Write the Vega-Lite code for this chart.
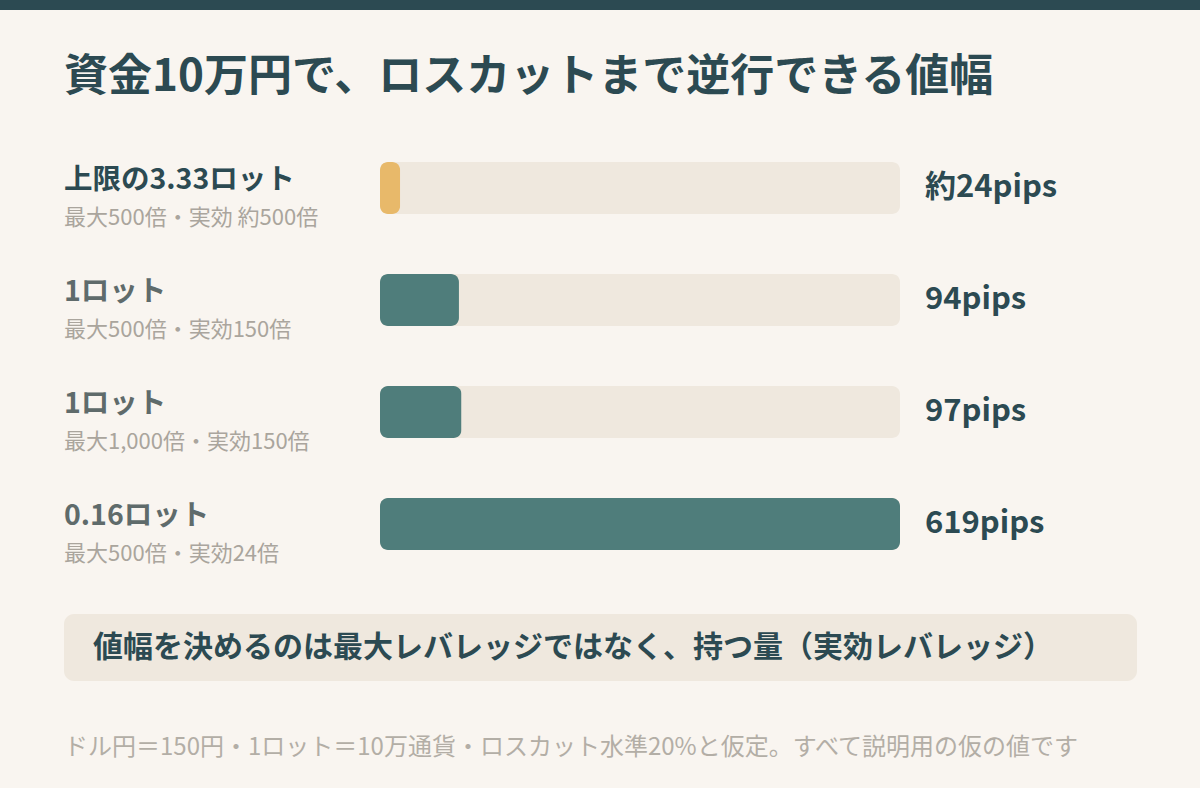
{
  "$schema": "https://vega.github.io/schema/vega-lite/v6.json",
  "width": 1200,
  "height": 788,
  "autosize": {"type": "none"},
  "padding": 0,
  "background": "#f9f5f0",
  "config": {
    "view": {"stroke": null},
    "text": {"font": "Noto Sans CJK JP"}
  },
  "datasets": {
    "cases": [
      {"row": "A", "lot": "上限の3.33ロット", "sub": "最大500倍・実効 約500倍", "pips": 24, "label": "約24pips", "kind": "上限"},
      {"row": "B", "lot": "1ロット", "sub": "最大500倍・実効150倍", "pips": 94, "label": "94pips", "kind": "通常"},
      {"row": "C", "lot": "1ロット", "sub": "最大1,000倍・実効150倍", "pips": 97, "label": "97pips", "kind": "通常"},
      {"row": "D", "lot": "0.16ロット", "sub": "最大500倍・実効24倍", "pips": 619, "label": "619pips", "kind": "通常"}
    ],
    "texts": [
      {"part": "band", "text": ""},
      {"part": "title", "text": "資金10万円で、ロスカットまで逆行できる値幅"},
      {"part": "note", "text": "値幅を決めるのは最大レバレッジではなく、持つ量（実効レバレッジ）"},
      {"part": "foot", "text": "ドル円＝150円・1ロット＝10万通貨・ロスカット水準20%と仮定。すべて説明用の仮の値です"}
    ]
  },
  "resolve": {"scale": {"x": "independent", "y": "independent"}},
  "layer": [
    {
      "data": {"name": "texts"},
      "transform": [{"filter": "datum.part === 'band'"}],
      "mark": {"type": "rect", "color": "#2c4a52"},
      "encoding": {
        "y": {"field": "part", "type": "nominal", "axis": null,
              "scale": {"domain": ["band"], "range": [0, 10], "paddingInner": 0, "paddingOuter": 0}}
      }
    },
    {
      "data": {"name": "texts"},
      "transform": [{"filter": "datum.part === 'title'"}],
      "mark": {"type": "text", "align": "left", "baseline": "middle", "fontSize": 44, "fontWeight": "bold", "color": "#2c4a52"},
      "encoding": {
        "x": {"field": "part", "type": "ordinal", "axis": null,
              "scale": {"type": "point", "domain": ["title"], "range": [64, 1137], "padding": 0, "align": 0}},
        "y": {"field": "part", "type": "nominal", "axis": null,
              "scale": {"domain": ["title"], "range": [57, 99], "paddingInner": 0, "paddingOuter": 0}},
        "text": {"field": "text"}
      }
    },
    {
      "data": {"name": "cases"},
      "transform": [{"joinaggregate": [{"op": "max", "field": "pips", "as": "full"}]}],
      "encoding": {
        "y": {"field": "row", "type": "nominal", "axis": null,
              "scale": {"domain": ["A", "B", "C", "D"], "range": [132, 580], "paddingInner": 0.5357, "paddingOuter": 0.2679}}
      },
      "layer": [
        {
          "mark": {"type": "bar", "cornerRadius": 8, "color": "#efe8de"},
          "encoding": {
            "x": {"field": "full", "type": "quantitative", "axis": null,
                  "scale": {"domain": [0, 619], "range": [380, 900], "nice": false, "zero": true}}
          }
        },
        {
          "mark": {"type": "bar", "cornerRadius": 8},
          "encoding": {
            "x": {"field": "pips", "type": "quantitative", "axis": null},
            "color": {"field": "kind", "type": "nominal", "legend": null,
                      "scale": {"domain": ["上限", "通常"], "range": ["#e8b96a", "#4f7d7b"]}},
            "tooltip": [{"field": "lot"}, {"field": "pips", "type": "quantitative"}]
          }
        },
        {
          "mark": {"type": "text", "align": "left", "baseline": "middle", "dx": 25, "fontSize": 31, "fontWeight": "bold", "color": "#2c4a52"},
          "encoding": {
            "x": {"field": "full", "type": "quantitative", "axis": null},
            "text": {"field": "label"}
          }
        },
        {
          "mark": {"type": "text", "align": "left", "baseline": "middle", "dx": -316, "dy": -8, "fontSize": 28.5, "fontWeight": "bold"},
          "encoding": {
            "x": {"datum": 0, "type": "quantitative", "axis": null},
            "text": {"field": "lot"},
            "color": {"field": "kind", "type": "nominal", "legend": null,
                      "scale": {"domain": ["上限", "通常"], "range": ["#2c4a52", "#5f6b6b"]}}
          }
        },
        {
          "mark": {"type": "text", "align": "left", "baseline": "middle", "dx": -316, "dy": 30, "fontSize": 22, "color": "#aaa59d"},
          "encoding": {
            "x": {"datum": 0, "type": "quantitative", "axis": null},
            "text": {"field": "sub"}
          }
        }
      ],
      "resolve": {"scale": {"color": "independent"}}
    },
    {
      "data": {"name": "texts"},
      "transform": [{"filter": "datum.part === 'note'"}],
      "encoding": {
        "x": {"field": "part", "type": "nominal", "axis": null,
              "scale": {"domain": ["note"], "range": [64, 1137], "paddingInner": 0, "paddingOuter": 0}},
        "y": {"field": "part", "type": "nominal", "axis": null,
              "scale": {"domain": ["note"], "range": [614, 681], "paddingInner": 0, "paddingOuter": 0}}
      },
      "layer": [
        {"mark": {"type": "rect", "cornerRadius": 10, "color": "#efe8de"}},
        {
          "mark": {"type": "text", "align": "left", "baseline": "middle", "dx": 29, "fontSize": 30, "fontWeight": "bold", "color": "#2c4a52"},
          "encoding": {
            "x": {"field": "part", "type": "nominal", "axis": null, "bandPosition": 0},
            "text": {"field": "text"}
          }
        }
      ]
    },
    {
      "data": {"name": "texts"},
      "transform": [{"filter": "datum.part === 'foot'"}],
      "mark": {"type": "text", "align": "left", "baseline": "middle", "fontSize": 24, "color": "#b3aea6"},
      "encoding": {
        "x": {"field": "part", "type": "ordinal", "axis": null,
              "scale": {"type": "point", "domain": ["foot"], "range": [64, 1137], "padding": 0, "align": 0}},
        "y": {"field": "part", "type": "nominal", "axis": null,
              "scale": {"domain": ["foot"], "range": [728, 768], "paddingInner": 0, "paddingOuter": 0}},
        "text": {"field": "text"}
      }
    }
  ]
}
